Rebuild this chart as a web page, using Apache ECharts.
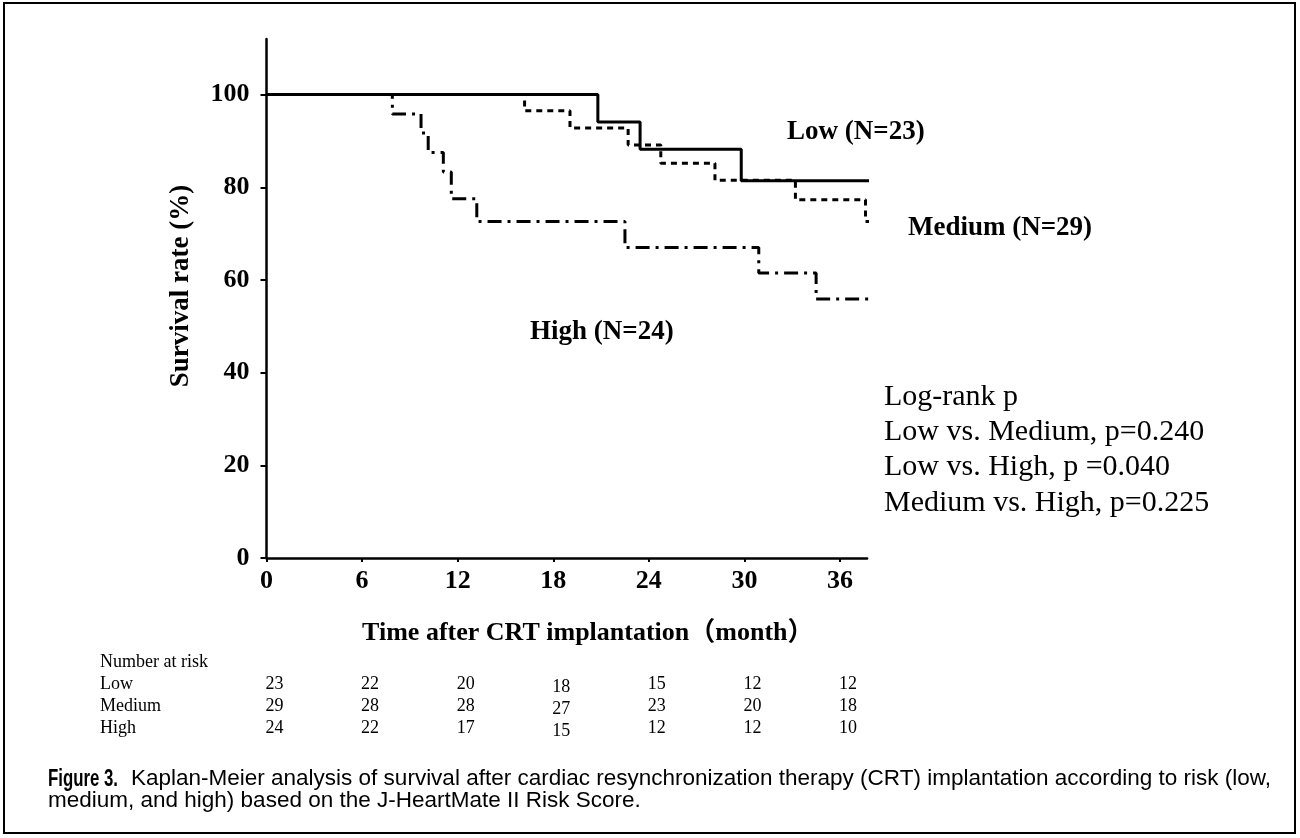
<!DOCTYPE html>
<html>
<head>
<meta charset="utf-8">
<title>Figure 3</title>
<script src="https://cdn.jsdelivr.net/npm/echarts@6/dist/echarts.min.js"></script>
<style>
    html, body { margin: 0; padding: 0; background: #fff; }
    #main { width: 1300px; height: 838px; }
</style>
</head>
<body>
<div id="main"></div>
<script>
// KM curves: [month, survival %]
var lowCurve = [[0, 100], [20.8, 94.1], [23.45, 88.2], [29.8, 81.4], [38, 81.4]];
var mediumCurve = [[0, 100], [16.2, 96.5], [19.05, 92.8], [22.7, 89.1], [24.75, 85.2], [28.15, 81.5], [33.2, 77.3], [37.6, 72.6], [38, 72.6]];
var highCurve = [[0, 100], [7.9, 95.8], [9.7, 91.7], [10.15, 87.5], [11.1, 83.3], [11.6, 77.5], [13.2, 72.6], [22.5, 67.0], [30.9, 61.5], [34.5, 55.9], [37.8, 55.9]];

var xTicks = [0, 6, 12, 18, 24, 30, 36];
var yTicks = [0, 20, 40, 60, 80, 100];

// number at risk table
var riskGroups = ['Low', 'Medium', 'High'];
var riskLow = [23, 22, 20, 18, 15, 12, 12];
var riskMedium = [29, 28, 28, 27, 23, 20, 18];
var riskHigh = [24, 22, 17, 15, 12, 12, 10];

var curveLabels = ['Low (N=23)', 'Medium (N=29)', 'High (N=24)'];
var pLines = ['Log-rank p', 'Low vs. Medium, p=0.240', 'Low vs. High, p =0.040', 'Medium vs. High, p=0.225'];

var serif = "'Liberation Serif', 'Times New Roman', 'Noto Sans CJK JP', serif";
var sans = "'Liberation Sans', Arial, sans-serif";

var chart = echarts.init(document.getElementById('main'));

var option = {
    backgroundColor: '#fff',
    animation: false,
    grid: {
        left: 266.5,
        top: 39,
        width: 600.6,
        height: 519,
        outerBoundsMode: 'none'
    },
    xAxis: {
        type: 'value',
        min: 0,
        max: 37.7,
        name: 'Time after CRT implantation\uff08month\uff09',
        nameLocation: 'middle',
        nameGap: 62,
        nameTextStyle: {
            fontFamily: serif, fontWeight: 'bold', fontSize: 26, color: '#000',
            verticalAlign: 'top', padding: [0, 0, 0, 42]
        },
        axisLine: { show: true, onZero: false, lineStyle: { color: '#000', width: 2.5 } },
        axisTick: { show: true, length: 4, customValues: xTicks, lineStyle: { color: '#000', width: 2 } },
        axisLabel: {
            customValues: xTicks, margin: 10,
            fontFamily: serif, fontWeight: 'bold', fontSize: 26, color: '#000'
        },
        splitLine: { show: false }
    },
    yAxis: {
        type: 'value',
        min: 0,
        max: 112,
        axisLine: { show: true, onZero: false, lineStyle: { color: '#000', width: 2.5 } },
        axisTick: { show: true, length: 6, customValues: yTicks, lineStyle: { color: '#000', width: 2 } },
        axisLabel: {
            customValues: yTicks, margin: 17,
            fontFamily: serif, fontWeight: 'bold', fontSize: 26, color: '#000'
        },
        splitLine: { show: false }
    },
    series: [
        {
            name: 'Low', type: 'line', step: 'end', data: lowCurve,
            symbol: 'none', clip: false,
            lineStyle: { color: '#000', width: 3, type: 'solid' }
        },
        {
            name: 'Medium', type: 'line', step: 'end', data: mediumCurve,
            symbol: 'none', clip: false,
            lineStyle: { color: '#000', width: 3, type: [6, 5] }
        },
        {
            name: 'High', type: 'line', step: 'end', data: highCurve,
            symbol: 'none', clip: false,
            lineStyle: { color: '#000', width: 3, type: [14, 6, 3, 6] }
        }
    ]
};
chart.setOption(option);

/* texts around the plot */
function txt(s, x, y, font, align, extra) {
    var el = {
        type: 'text', x: x, y: y, silent: true,
        style: { text: s, font: font, fill: '#000', align: align || 'left', verticalAlign: 'middle' }
    };
    if (extra) {
        for (var k in extra) { el[k] = extra[k]; }
    }
    return el;
}

var g = [];
// outer frame
g.push({ type: 'rect', shape: { x: 4, y: 3, width: 1291, height: 830 }, style: { fill: 'none', stroke: '#000', lineWidth: 2 }, silent: true });

// y axis name
g.push(txt('Survival rate (%)', 181, 286, 'bold 27px ' + serif, 'center', { rotation: Math.PI / 2 }));

// curve labels
g.push(txt(curveLabels[0], 787, 132, 'bold 27px ' + serif));
g.push(txt(curveLabels[1], 908, 228, 'bold 27px ' + serif));
g.push(txt(curveLabels[2], 530, 332, 'bold 27px ' + serif));

// log-rank block
for (var i = 0; i < pLines.length; i++) {
    g.push(txt(pLines[i], 884, 397 + i * 35.3, '30px ' + serif));
}

// number at risk, columns placed under the x ticks
var rowY = [684, 706, 728];
var riskRows = [riskLow, riskMedium, riskHigh];
g.push(txt('Number at risk', 100, 662, '18px ' + serif));
for (var r = 0; r < riskGroups.length; r++) {
    g.push(txt(riskGroups[r], 100, rowY[r], '18px ' + serif));
    for (var c = 0; c < xTicks.length; c++) {
        var px = chart.convertToPixel({ xAxisIndex: 0 }, xTicks[c]);
        g.push(txt(String(riskRows[r][c]), px + 8, rowY[r] + (c === 3 ? 3 : 0), '18px ' + serif, 'center'));
    }
}

// caption
g.push(txt('Figure 3.', 48, 779, 'bold 24px ' + sans, 'left', { scaleX: 0.7, originX: 0 }));
g.push(txt('Kaplan-Meier analysis of survival after cardiac resynchronization therapy (CRT) implantation according to risk (low,', 131, 779, '22.5px ' + sans));
g.push(txt('medium, and high) based on the J-HeartMate II Risk Score.', 48, 801, '22.5px ' + sans));

chart.setOption({ graphic: g });
</script>
</body>
</html>
